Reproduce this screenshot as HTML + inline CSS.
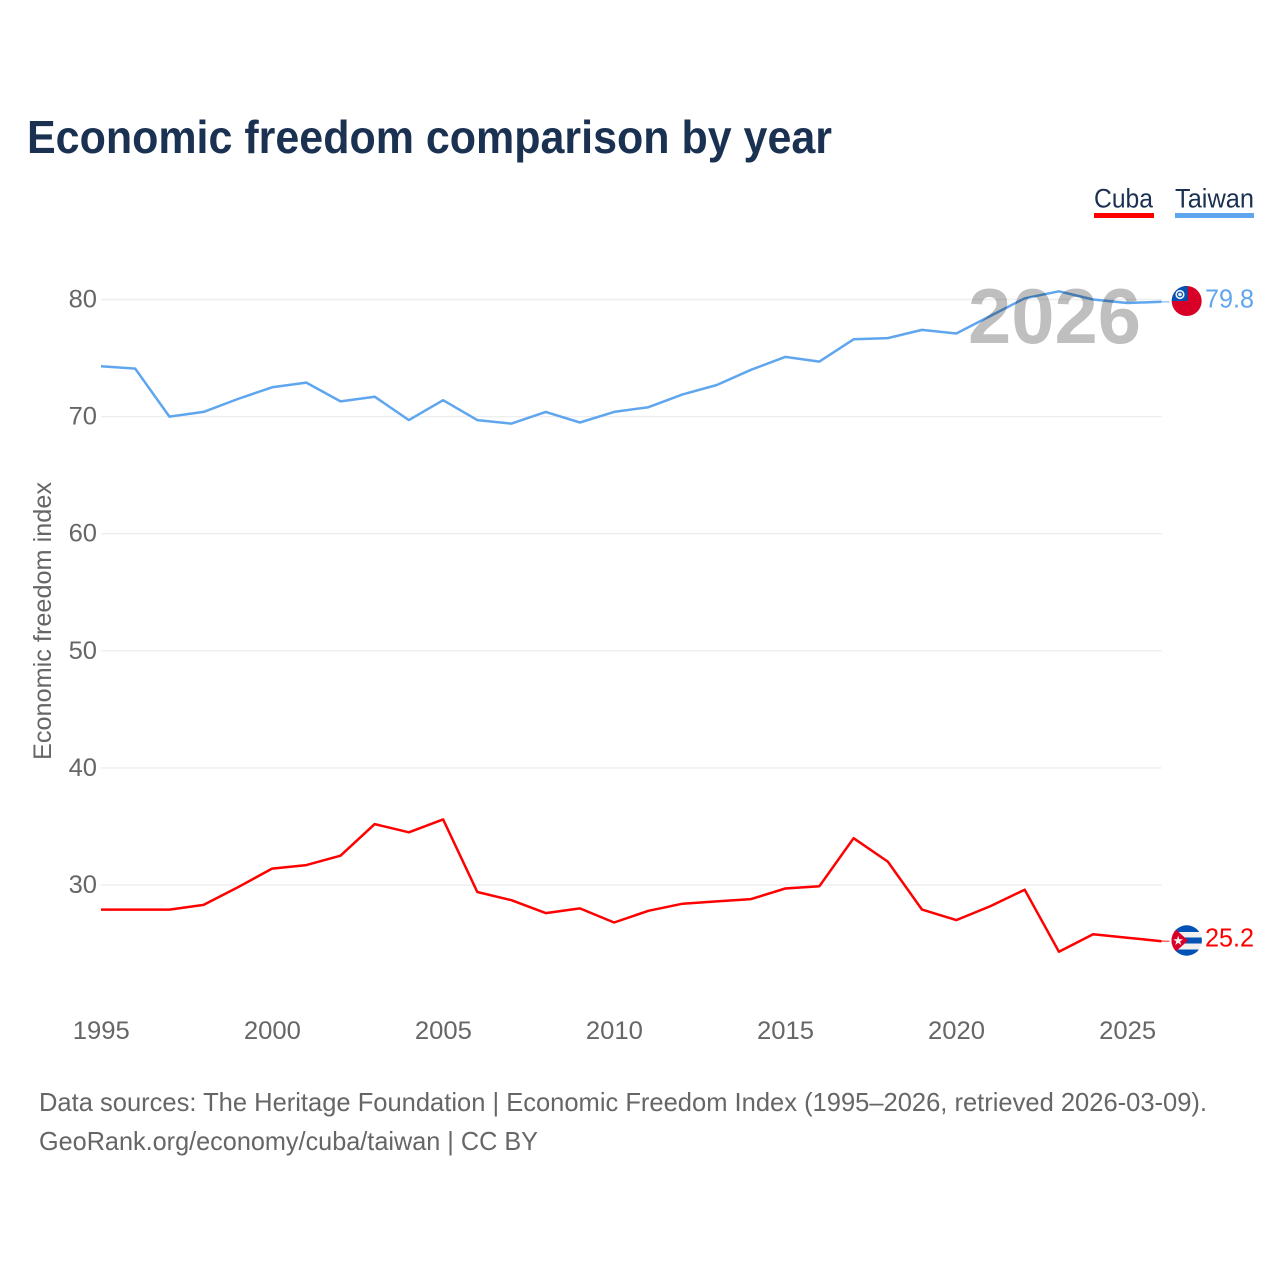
<!DOCTYPE html>
<html lang="en">
<head>
<meta charset="utf-8">
<title>Economic freedom comparison by year</title>
<style>
html,body{margin:0;padding:0;background:#fff;width:1280px;height:1280px;overflow:hidden}
svg{display:block;font-family:"Liberation Sans",sans-serif}
</style>
</head>
<body>
<svg id="chart" xmlns="http://www.w3.org/2000/svg" width="1280" height="1280" viewBox="0 0 1280 1280">
  <defs>
    <clipPath id="flag-clip-tw"><circle cx="1186.7" cy="301" r="15"/></clipPath>
    <clipPath id="flag-clip-cu"><circle cx="1186.7" cy="940.5" r="15.2"/></clipPath>
  </defs>
  <rect x="0" y="0" width="1280" height="1280" fill="#fff"/>
  <text x="27" y="153" font-size="46" font-weight="700" fill="#1a3152" textLength="805" lengthAdjust="spacingAndGlyphs">Economic freedom comparison by year</text>

  <g>
    <text x="1094" y="207.5" font-size="27" fill="#1a3152" textLength="59" lengthAdjust="spacingAndGlyphs">Cuba</text>
    <rect x="1094" y="213" width="60" height="5" fill="#ff0000"/>
  </g>
  <g>
    <text x="1175" y="207.5" font-size="27" fill="#1a3152" textLength="79" lengthAdjust="spacingAndGlyphs">Taiwan</text>
    <rect x="1175" y="213" width="79" height="5" fill="#5fa6ee"/>
  </g>

  <g id="grid"></g>
  <g id="y-ticks"></g>
  <g id="x-ticks"></g>
  <text transform="translate(51 621) rotate(-90)" text-anchor="middle" font-size="25" fill="#666" textLength="278" lengthAdjust="spacingAndGlyphs">Economic freedom index</text>

  <g id="series"></g>

  <text x="968" y="343" font-size="78" font-weight="700" fill="#000" fill-opacity="0.25" textLength="173" lengthAdjust="spacingAndGlyphs">2026</text>

  <g clip-path="url(#flag-clip-tw)">
    <rect x="1170" y="284" width="34" height="34" fill="#d80027"/>
    <rect x="1170" y="284" width="17.7" height="17" fill="#0052b4"/>
    <circle cx="1180" cy="294.5" r="4.6" fill="#f0f0f0"/>
    <circle cx="1180" cy="294.5" r="3" fill="#0052b4"/>
    <circle cx="1180" cy="294.5" r="1.8" fill="#f0f0f0"/>
  </g>
  <g clip-path="url(#flag-clip-cu)">
    <rect x="1170" y="924" width="34" height="34" fill="#f0f0f0"/>
    <rect x="1170" y="924" width="34" height="8" fill="#0052b4"/>
    <rect x="1170" y="937.5" width="34" height="6" fill="#0052b4"/>
    <rect x="1170" y="949.5" width="34" height="8" fill="#0052b4"/>
    <polygon points="1171,925 1188,940.5 1171,956" fill="#d80027"/>
    <polygon points="1178.2,935.8 1179.4,939.2 1183,939.3 1180.1,941.5 1181.2,945 1178.2,942.9 1175.2,945 1176.3,941.5 1173.4,939.3 1177,939.2" fill="#f0f0f0"/>
  </g>

  <g id="end-labels"></g>

  <text x="39" y="1111" font-size="26" fill="#666" textLength="1168" lengthAdjust="spacingAndGlyphs">Data sources: The Heritage Foundation | Economic Freedom Index (1995–2026, retrieved 2026-03-09).</text>
  <text x="39" y="1150" font-size="26" fill="#666" textLength="499" lengthAdjust="spacingAndGlyphs">GeoRank.org/economy/cuba/taiwan | CC BY</text>
</svg>
<script>
const years = [1995,1996,1997,1998,1999,2000,2001,2002,2003,2004,2005,2006,2007,2008,2009,2010,2011,2012,2013,2014,2015,2016,2017,2018,2019,2020,2021,2022,2023,2024,2025,2026];
const taiwanValues = [74.3,74.1,70.0,70.4,71.5,72.5,72.9,71.3,71.7,69.7,71.4,69.7,69.4,70.4,69.5,70.4,70.8,71.9,72.7,74.0,75.1,74.7,76.6,76.7,77.4,77.1,78.6,80.1,80.7,80.0,79.7,79.8];
const cubaValues = [27.9,27.9,27.9,28.3,29.8,31.4,31.7,32.5,35.2,34.5,35.6,29.4,28.7,27.6,28.0,26.8,27.8,28.4,28.6,28.8,29.7,29.9,34.0,32.0,27.9,27.0,28.2,29.6,24.3,25.8,25.5,25.2];
const yTickValues = [30,40,50,60,70,80];
const xTickValues = [1995,2000,2005,2010,2015,2020,2025];

const NS = 'http://www.w3.org/2000/svg';
const xAxis = function (year) { return 101 + (year - 1995) * 34.21; };
const yAxis = function (value) { return 885 - (value - 30) * 11.71; };

function make(tag, attrs, parent, text) {
  const el = document.createElementNS(NS, tag);
  Object.keys(attrs).forEach(function (k) { el.setAttribute(k, attrs[k]); });
  if (text !== undefined) el.textContent = text;
  parent.appendChild(el);
  return el;
}

const gridGroup = document.getElementById('grid');
const yTickGroup = document.getElementById('y-ticks');
const xTickGroup = document.getElementById('x-ticks');
const seriesGroup = document.getElementById('series');
const endGroup = document.getElementById('end-labels');

yTickValues.forEach(function (v) {
  const line = make('line', {x1: xAxis(1995), x2: xAxis(2026), y1: yAxis(v), y2: yAxis(v), stroke: '#eeeeee', 'stroke-width': 1.4}, gridGroup);
  
  
  const label = make('text', {x: 97, y: yAxis(v) + 8, 'text-anchor': 'end', 'font-size': 25, fill: '#666', textLength: String(v).length * 14.2, lengthAdjust: 'spacingAndGlyphs'}, yTickGroup, String(v));
  
  
});

xTickValues.forEach(function (yr) {
  const label = make('text', {x: xAxis(yr) + 0.3, y: 1039, 'text-anchor': 'middle', 'font-size': 25, fill: '#666', textLength: 57, lengthAdjust: 'spacingAndGlyphs'}, xTickGroup, String(yr));
  
  
});

function drawSeries(values, color, key) {
  const pts = values.map(function (v, i) { return xAxis(years[i]).toFixed(1) + ',' + yAxis(v).toFixed(1); }).join(' ');
  const line = make('polyline', {points: pts, fill: 'none', stroke: color, 'stroke-width': 2.5, 'stroke-linejoin': 'round'}, seriesGroup);
  
  
  const last = values[values.length - 1];
  const lastX = xAxis(years[years.length - 1]);
  const connector = make('line', {x1: lastX, x2: lastX + 8, y1: yAxis(last), y2: yAxis(last), stroke: color, 'stroke-width': 1.5, 'stroke-opacity': 0.6}, seriesGroup);
  
  
  const label = make('text', {x: 1254, y: yAxis(last) + 5.5, 'text-anchor': 'end', 'font-size': 26, fill: color, textLength: 49, lengthAdjust: 'spacingAndGlyphs'}, endGroup, last.toFixed(1));
  
  
}

drawSeries(cubaValues, '#ff0000', 'cuba');
drawSeries(taiwanValues, '#5fa6ee', 'taiwan');
</script>
</body>
</html>
